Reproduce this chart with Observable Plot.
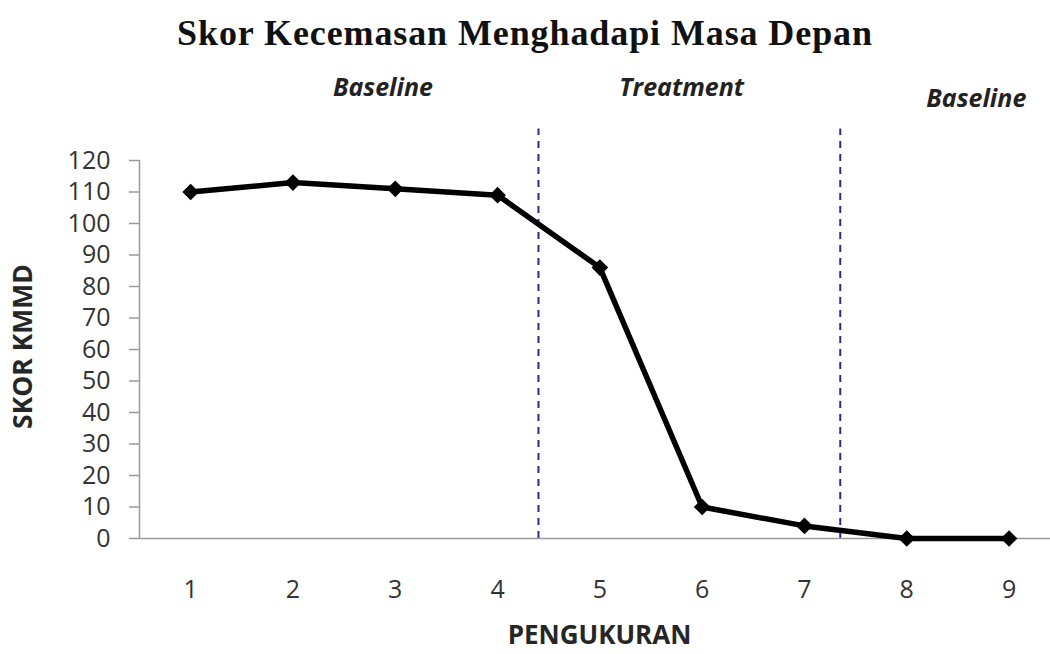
<!DOCTYPE html>
<html>
<head>
<meta charset="utf-8">
<script src="https://cdn.jsdelivr.net/npm/d3@7"></script>
<script src="https://cdn.jsdelivr.net/npm/@observablehq/plot@0.6"></script>
<style>
  html, body { margin: 0; padding: 0; background: #fff; }
  #title {
    width: 1050px; height: 64px; line-height: 66px; text-align: center;
    font-family: "Liberation Serif", "Times New Roman", serif; font-weight: bold;
    font-size: 36px; color: #111; letter-spacing: 0.9px; white-space: nowrap;
  }
</style>
</head>
<body>
<div id="title">Skor Kecemasan Menghadapi Masa Depan</div>
<div id="chart"></div>
<script>
const measurement = [1, 2, 3, 4, 5, 6, 7, 8, 9];
const scores = [110, 113, 111, 109, 86, 10, 4, 0, 0];
const phaseNames = ["Baseline", "Treatment", "Baseline"];
const phaseLabelX = [2.88, 5.80, 8.68];
const phaseLabelY = [143, 143, 139.4];
const phaseChangeX = [4.4, 7.35];
const yTicks = [0, 10, 20, 30, 40, 50, 60, 70, 80, 90, 100, 110, 120];
const xTicks = [1, 2, 3, 4, 5, 6, 7, 8, 9];

const data = measurement.map((m, i) => ({m, s: scores[i]}));
const phases = phaseNames.map((n, i) => ({n, x: phaseLabelX[i], y: phaseLabelY[i]}));

const chart = Plot.plot({
  width: 1050,
  height: 590,
  marginLeft: 139,
  marginRight: 0,
  marginTop: 96,
  marginBottom: 116,
  style: {fontFamily: "'Open Sans', sans-serif", background: "#fff", overflow: "visible"},
  x: {domain: [0.5, 9.405]},
  y: {domain: [0, 120]},
  marks: [
    Plot.ruleX(phaseChangeX, {y1: 0, y2: 130, stroke: "#2b2b8c", strokeWidth: 2, strokeDasharray: "7,6"}),
    Plot.ruleY([0], {stroke: "#9a9a9a", strokeWidth: 1.5}),
    Plot.ruleX([0.5], {y1: 0, y2: 120, stroke: "#9a9a9a", strokeWidth: 1.5}),
    Plot.axisY({ticks: yTicks, tickSize: 10, tickPadding: 19, fontSize: 25, label: null, stroke: "#9a9a9a", fill: "#333", strokeWidth: 1.5}),
    Plot.axisX({ticks: xTicks, tickSize: 0, tickPadding: 42, fontSize: 25, label: null, fill: "#333"}),
    Plot.line(data, {x: "m", y: "s", stroke: "#000", strokeWidth: 5.5, strokeLinejoin: "round"}),
    Plot.dot(data, {x: "m", y: "s", symbol: "diamond2", r: 7.5, fill: "#000", stroke: "none"}),
    Plot.text(phases, {x: "x", y: "y", text: "n", fontSize: 25, fontWeight: "bold", fontStyle: "italic", fill: "#222"}),
    Plot.text(["SKOR KMMD"], {frameAnchor: "left", textAnchor: "middle", lineAnchor: "middle", rotate: -90, dx: -116, dy: -3, fontSize: 26.5, fontWeight: "bold", fill: "#262626"}),
    Plot.text(["PENGUKURAN"], {frameAnchor: "bottom", textAnchor: "middle", lineAnchor: "middle", dx: 4.5, dy: 97, fontSize: 26, fontWeight: "bold", fill: "#262626"})
  ]
});
document.getElementById("chart").appendChild(chart);
</script>
</body>
</html>
